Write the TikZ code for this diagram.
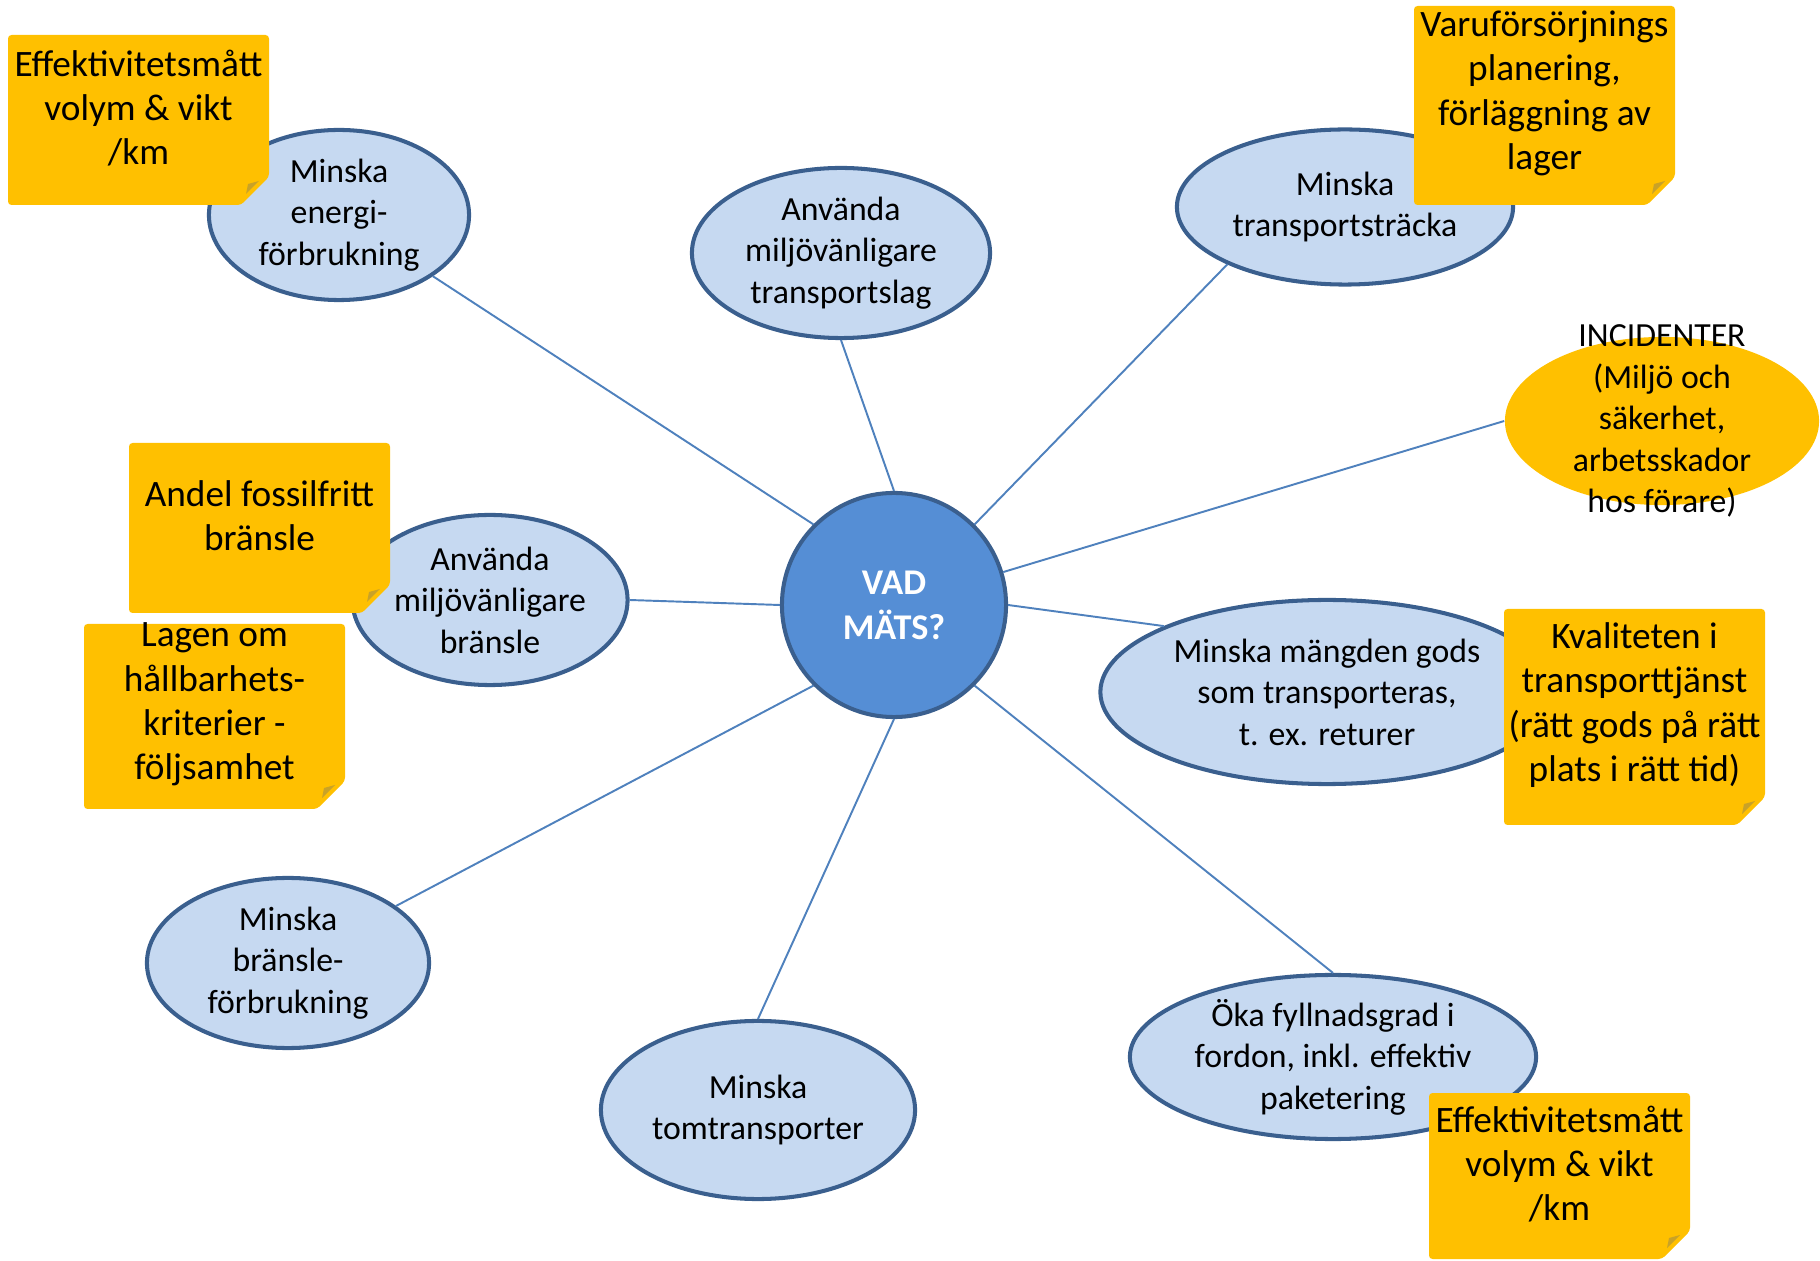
\documentclass[tikz,border=0pt]{standalone}
\usepackage{fontspec}
\setmainfont{Carlito}
\usetikzlibrary{shapes.geometric}

\definecolor{ljusbla}{HTML}{C6D9F1}
\definecolor{kantbla}{HTML}{3A5F8E}
\definecolor{mittbla}{HTML}{558ED5}
\definecolor{linjebla}{HTML}{4F81BD}
\definecolor{lappfarg}{HTML}{FFC000}
\definecolor{vikfarg}{HTML}{C9A227}

\tikzset{
  mal/.style={ellipse, draw=kantbla, line width=1.15pt, fill=ljusbla, align=center,
    inner sep=0pt, font=\fontsize{9.6}{11.8}\selectfont},
  mitt/.style={circle, draw=kantbla, line width=1.15pt, fill=mittbla, text=white,
    align=center, inner sep=0pt, minimum size=2.24cm, font=\fontsize{10.3}{12.8}\selectfont\bfseries},
  incident/.style={ellipse, fill=lappfarg, inner sep=0pt},
  mtext/.style={align=center, inner sep=0pt, font=\fontsize{9.6}{11.8}\selectfont},
  lapptext/.style={align=center, inner sep=0pt, font=\fontsize{10.6}{12.6}\selectfont},
  kant/.style={draw=linjebla, line width=0.55pt}
}

% lapp: namn, x1, y1, x2, y2, text
\newcommand{\lapp}[6]{%
  \fill[lappfarg, rounded corners=1pt] (#2,#3) -- (#4,#3) -- (#4,#5-28) -- (#4-28,#5) -- (#2,#5) -- cycle;
  \fill[vikfarg] (#4-10,#5-24) -- (#4-23,#5-11) -- (#4-21,#5-21) -- cycle;
  \node[lapptext] (#1) at ({(#2+#4)/2},{(#3+#5)/2-12}) {#6};
}

\begin{document}
\begin{tikzpicture}[x=0.01cm, y=-0.01cm]
    \useasboundingbox (0,0) rectangle (1820,1261);

    % mitten
    \node[mitt] (vad) at (894,605) {VAD\\MÄTS?};

    % mål
    \node[mal, minimum width=2.60cm, minimum height=1.70cm] (energi) at (339,215) {Minska\\energi-\\förbrukning};
    \node[mal, minimum width=2.98cm, minimum height=1.70cm] (transportslag) at (841,253) {Använda\\miljövänligare\\transportslag};
    \node[mal, minimum width=3.36cm, minimum height=1.55cm] (stracka) at (1345,207) {Minska\\transportsträcka};
    \node[incident, minimum width=3.14cm, minimum height=1.68cm] (incident) at (1662,421) {};
    \node[mtext] (incidenttext) at (incident) {INCIDENTER\\(Miljö och\\säkerhet,\\arbetsskador\\hos förare)};
    \node[mal, minimum width=4.53cm, minimum height=1.84cm] (mangd) at (1327,692) {Minska mängden gods\\som transporteras,\\t. ex. returer};
    \node[mal, minimum width=4.06cm, minimum height=1.64cm] (fyllnad) at (1333,1057) {Öka fyllnadsgrad i\\fordon, inkl. effektiv\\paketering};
    \node[mal, minimum width=3.14cm, minimum height=1.78cm] (tom) at (758,1110) {Minska\\tomtransporter};
    \node[mal, minimum width=2.82cm, minimum height=1.70cm] (bransleforbr) at (288,963) {Minska\\bränsle-\\förbrukning};
    \node[mal, minimum width=2.75cm, minimum height=1.70cm] (bransle) at (490,600) {Använda\\miljövänligare\\bränsle};

    % kanter
    \draw[kant] (vad.135) -- (energi);
    \draw[kant] (vad.north) -- (transportslag.south);
    \draw[kant] (vad.45) -- (stracka.206);
    \draw[kant] (vad) -- (incident.west);
    \draw[kant] (vad.east) -- (mangd.158);
    \draw[kant] (vad.-45) -- (fyllnad.north);
    \draw[kant] (vad.south) -- (tom.north);
    \draw[kant] (vad.225) -- (bransleforbr);
    \draw[kant] (vad.west) -- (bransle.east);

    % lappar
    \lapp{effekt1}{8}{35}{269}{205}{Effektivitetsmått\\volym \& vikt\\/km}
    \lapp{fossil}{129}{443}{390}{613}{Andel fossilfritt\\bränsle}
    \lapp{lagen}{84}{624}{345}{809}{Lagen om\\hållbarhets-\\kriterier -\\följsamhet}
    \lapp{varu}{1414}{6}{1675}{205}{Varuförsörjnings\\planering,\\förläggning av\\lager}
    \lapp{kvalitet}{1504}{609}{1765}{825}{Kvaliteten i\\transporttjänst\\(rätt gods på rätt\\plats i rätt tid)}
    \lapp{effekt2}{1429}{1093}{1690}{1259}{Effektivitetsmått\\volym \& vikt\\/km}
\end{tikzpicture}
\end{document}
